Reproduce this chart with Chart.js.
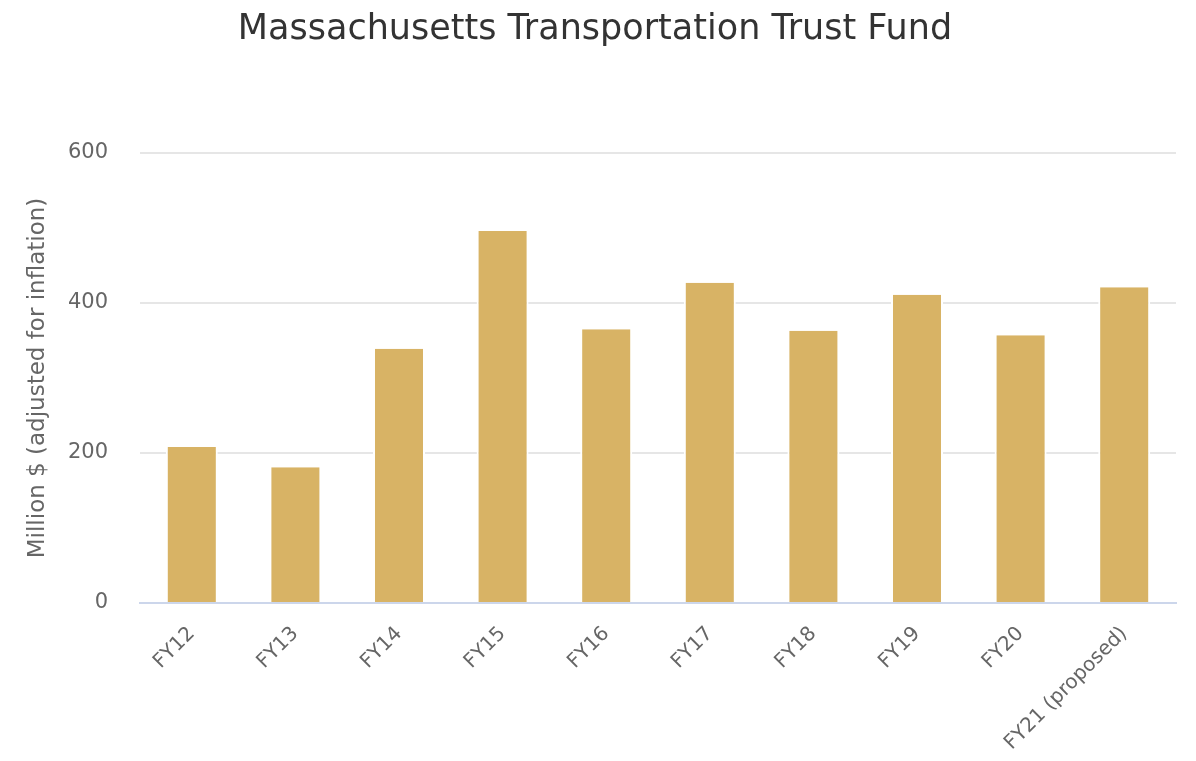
<!DOCTYPE html>
<html>
<head>
<meta charset="utf-8">
<script src="https://cdn.jsdelivr.net/npm/chart.js@4"></script>
<style>
html,body{margin:0;padding:0;background:#fff;}
#wrap{width:1196px;height:761px;position:relative;}
</style>
</head>
<body>
<div id="wrap"><canvas id="c" width="1196" height="761"></canvas></div>
<script>
const categories = ["FY12","FY13","FY14","FY15","FY16","FY17","FY18","FY19","FY20","FY21 (proposed)"];
const values = [208, 181, 339, 496, 365, 427, 363, 411, 357, 421];
const yTicks = [0, 200, 400, 600];
const titleText = "Massachusetts Transportation Trust Fund";
const yTitle = "Million $ (adjusted for inflation)";

const FONT = "'DejaVu Sans', sans-serif";

new Chart(document.getElementById('c'), {
  type: 'bar',
  data: {
    labels: categories,
    datasets: [{
      data: values,
      backgroundColor: '#d8b365',
      borderColor: '#ffffff',
      borderWidth: {left: 2, right: 2, top: 0, bottom: 0},
      borderSkipped: false,
      categoryPercentage: 1,
      barPercentage: 0.502
    }]
  },
  options: {
    responsive: false,
    animation: false,
    devicePixelRatio: 1,
    layout: {padding: {left: 14, right: 20, top: 0, bottom: 0}},
    plugins: {
      legend: {display: false},
      tooltip: {enabled: false},
      title: {
        display: true,
        text: titleText,
        color: '#333333',
        font: {family: FONT, size: 35, weight: 'normal'},
        padding: {top: 9, bottom: 102}
      }
    },
    scales: {
      x: {
        grid: {display: false, drawTicks: false},
        border: {display: true, color: '#ccd6eb', width: 2},
        ticks: {
          color: '#666666',
          font: {family: FONT, size: 20},
          minRotation: 45,
          maxRotation: 45,
          autoSkip: false,
          padding: 19
        },
        afterFit(s) { s.height = 158; }
      },
      y: {
        min: 0,
        max: 600,
        afterBuildTicks(s) { s.ticks = yTicks.map(v => ({value: v})); },
        grid: {color: '#e6e6e6', lineWidth: 2, drawTicks: false},
        border: {display: false},
        ticks: {
          color: '#666666',
          font: {family: FONT, size: 21},
          padding: 32
        },
        title: {
          display: true,
          text: yTitle,
          color: '#666666',
          font: {family: FONT, size: 23},
          padding: {top: 10, bottom: 0}
        },
        afterFit(s) { s.width = 126; }
      }
    }
  }
});
</script>
</body>
</html>
